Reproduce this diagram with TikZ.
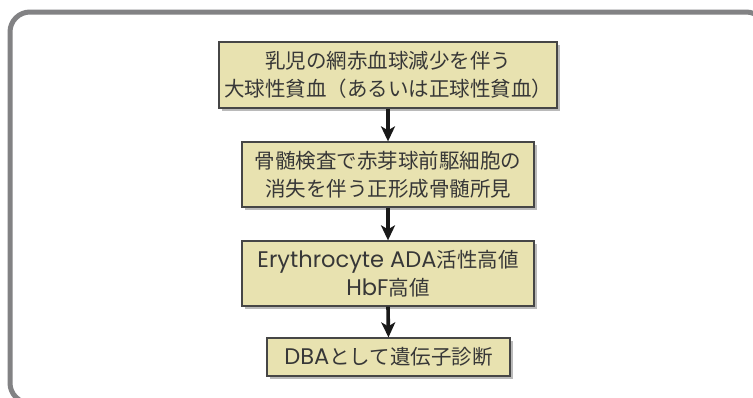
\documentclass[tikz,border=0pt]{standalone}
\usepackage{fontspec}
\setmainfont{Noto Sans CJK JP}
\newfontfamily\latinfont[Scale=1.1]{Poppins}
\newcommand{\lat}[1]{{\latinfont #1}}
\usetikzlibrary{arrows.meta,shadows}
\definecolor{boxfill}{RGB}{232,226,176}
\definecolor{boxline}{RGB}{70,70,70}
\definecolor{frameline}{RGB}{130,130,132}
\definecolor{txt}{RGB}{55,55,55}
\tikzset{
  stepbox/.style={draw=boxline, line width=1.3pt, fill=boxfill, text=txt,
    align=center, inner sep=0pt,
    font=\fontsize{20.5}{28}\selectfont,
    drop shadow={shadow xshift=3pt, shadow yshift=-3pt, fill=black!45, opacity=0.6}},
  flow/.style={line width=3.6pt, black!90,
    -{Stealth[length=15pt,width=14pt,inset=4pt]}}
}
\begin{document}
\begin{tikzpicture}[x=1pt,y=-1pt]
\useasboundingbox (0,0) rectangle (753,397);
\fill[white] (0,0) rectangle (753,397);
% outer rounded frame, partly running off the page
\begin{scope}
  \clip (0,0) rectangle (753,397);
  \draw[frameline, line width=5pt, rounded corners=20pt] (10,12) rectangle (766,403);
\end{scope}
% flow steps
\node[stepbox, minimum width=338pt, minimum height=66pt] (s1) at (388,75)
  {乳児の網赤血球減少を伴う\\大球性貧血（あるいは正球性貧血）};
\node[stepbox, minimum width=292pt, minimum height=65pt] (s2) at (388,174.5)
  {骨髄検査で赤芽球前駆細胞の\\消失を伴う正形成骨髄所見};
\node[stepbox, minimum width=292pt, minimum height=65pt] (s3) at (388,273.5)
  {\lat{Erythrocyte ADA}活性高値\\\lat{HbF}高値};
\node[stepbox, minimum width=243pt, minimum height=38pt] (s4) at (388.5,357)
  {\lat{DBA}として遺伝子診断};
% connectors
\draw[flow] (s1.south) -- (s2.north);
\draw[flow] (s2.south) -- (s3.north);
\draw[flow] (s3.south) -- (s4.north);
\end{tikzpicture}
\end{document}
